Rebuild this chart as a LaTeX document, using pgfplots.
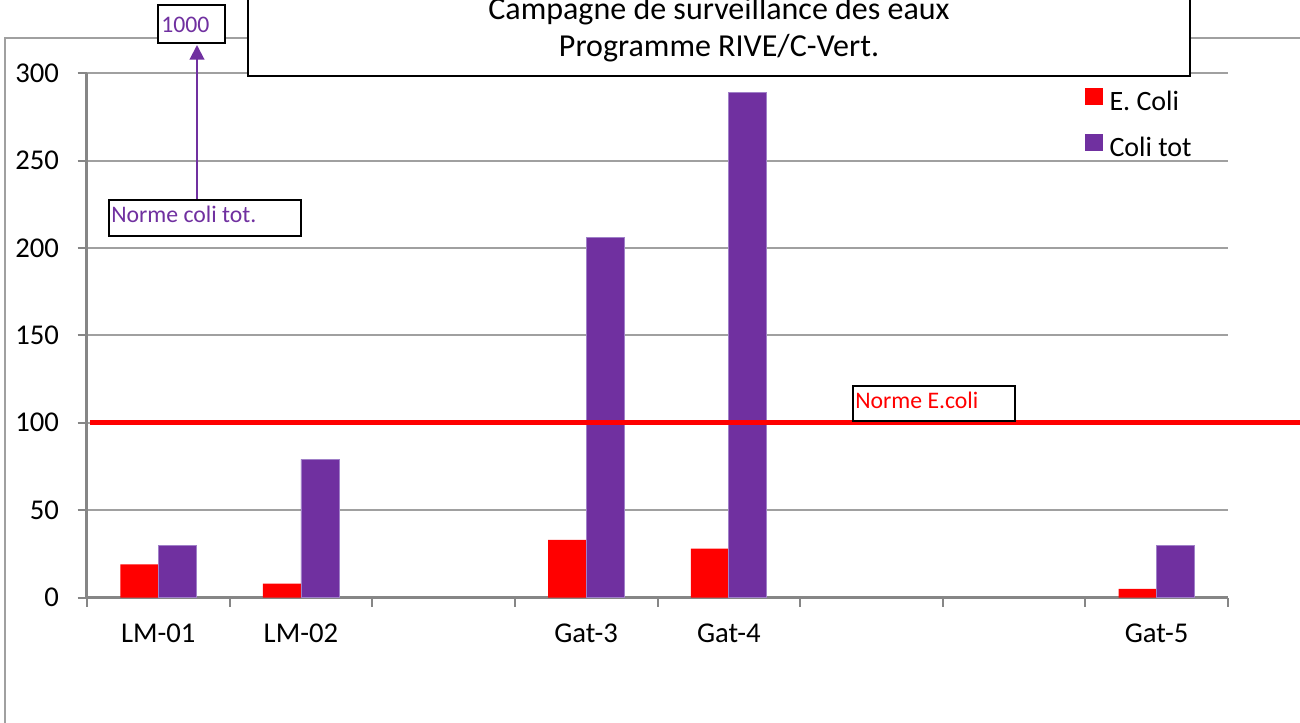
\documentclass[border=0pt]{standalone}
\usepackage{pgfplots}
\pgfplotsset{compat=1.18}
\usepackage{fontspec}
\setmainfont{Carlito}
\usetikzlibrary{arrows.meta}
\definecolor{ecoli}{HTML}{FF0000}
\definecolor{colitot}{HTML}{7030A0}
\definecolor{colitotedge}{HTML}{A080C8}
\definecolor{axgray}{HTML}{868686}
\definecolor{gridgray}{HTML}{A0A0A0}
\definecolor{framegray}{HTML}{A0A0A0}
\begin{document}
\begin{tikzpicture}
\useasboundingbox (0,0) rectangle (975pt,541.5pt);
\clip (0,0) rectangle (975pt,541.5pt);
\begin{scope}[x=0.75pt,y=-0.75pt,yshift=541.5pt]
  \draw[framegray, line width=1.5pt] (5,760) -- (5,38) -- (1330,38);
\end{scope}
\begin{axis}[
  at={(65.25pt,93.375pt)}, anchor=south west,
  scale only axis, width=855.75pt, height=393.15pt,
  xmin=-0.5, xmax=7.5, ymin=0, ymax=300,
  axis x line*=bottom, axis y line*=left,
  axis line style={axgray, line width=2.25pt},
  tick align=outside,
  major tick length=7pt,
  tick style={axgray, line width=1.5pt},
  xtick={-0.5,0.5,...,7.5},
  xticklabels={},
  extra x ticks={0,1,3,4,7},
  extra x tick labels={LM-01,LM-02,Gat-3,Gat-4,Gat-5},
  extra x tick style={major tick length=0pt, grid=none,
    tick label style={yshift=-16pt}},
  ytick={0,50,...,300},
  yticklabel style={xshift=-10.5pt},
  ymajorgrids,
  major grid style={gridgray, line width=1.5pt},
  ticklabel style={font=\fontsize{21.5}{25}\selectfont},
  /pgf/number format/assume math mode=true,
  clip=false,
  legend style={at={(0.8747,0.973)}, anchor=north west, draw=none, fill=none,
    inner sep=0pt, row sep=13.25pt, column sep=5pt,
    font=\fontsize{21}{25}\selectfont,
    nodes={inner sep=0pt, text height=14pt, text depth=4pt}},
  legend cell align=left,
]
\addplot[ybar, bar width=28.5pt, bar shift=-14.25pt, fill=ecoli, draw=none, forget plot]
  coordinates {(0,19) (1,8) (3,33) (4,28) (7,5)};
\addplot[ybar, bar width=28.5pt, bar shift=14.25pt, fill=colitot, draw=colitotedge, line width=0.5pt, forget plot]
  coordinates {(0,30) (1,79) (3,206) (4,289) (7,30)};
\addplot[ecoli, line width=3.75pt, forget plot] coordinates {(-0.479,100) (8.6,100)};
\addlegendimage{legend image code/.code={\fill[ecoli] (0pt,0pt) rectangle (12.75pt,12pt);}}
\addlegendentry{E. Coli}
\addlegendimage{legend image code/.code={\fill[colitot] (0pt,0pt) rectangle (12.75pt,12pt);}}
\addlegendentry{Coli tot}
\end{axis}
\begin{scope}[x=0.75pt,y=-0.75pt,yshift=541.5pt]
  \draw[colitot, line width=1.5pt, -{Triangle[width=11pt,length=11pt]}] (197,199) -- (197,45);
  \draw[black, line width=1.5pt, fill=white] (158,5) rectangle (225,43);
  \node[anchor=base west, inner sep=0pt, text=colitot, font=\fontsize{17.8}{20}\selectfont] at (161,33) {1000};
  \draw[black, line width=1.5pt, fill=white] (109,200) rectangle (301,236);
  \node[anchor=base west, inner sep=0pt, text=colitot, font=\fontsize{17.8}{20}\selectfont] at (111,223) {Norme coli tot.};
  \draw[black, line width=1.5pt, fill=white] (853,386) rectangle (1015,421);
  \node[anchor=base west, inner sep=0pt, text=ecoli, font=\fontsize{17.8}{20}\selectfont] at (855,409) {Norme E.coli};
  \draw[black, line width=1.5pt, fill=white] (248,-10) rectangle (1190,76);
  \node[anchor=base, inner sep=0pt, font=\fontsize{24}{28}\selectfont] at (719,20) {Campagne de surveillance des eaux};
  \node[anchor=base, inner sep=0pt, font=\fontsize{24}{28}\selectfont] at (719,57) {Programme RIVE/C-Vert.};
\end{scope}
\end{tikzpicture}
\end{document}
